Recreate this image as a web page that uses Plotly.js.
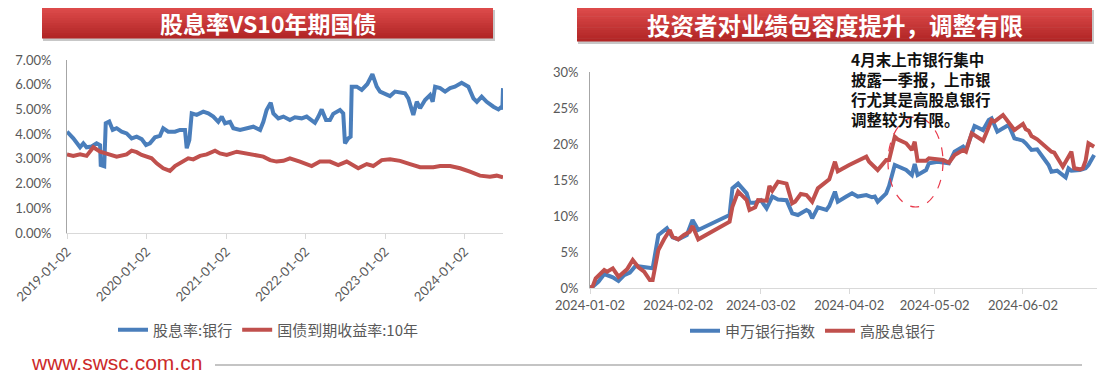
<!DOCTYPE html>
<html>
<head>
<meta charset="utf-8">
<script src="https://cdn.plot.ly/plotly-3.0.1.min.js"></script>
<style>
  html, body { margin: 0; padding: 0; background: #ffffff; }
  #chart { width: 1106px; height: 373px; }
</style>
</head>
<body>
<div id="chart"></div>
<script>
// ---------------- DATA ----------------
// Left panel: 股息率:银行 (bank dividend yield, %)
const yieldDates = ['2019-01-02','2019-01-31','2019-03-03','2019-03-18','2019-04-02','2019-04-25','2019-05-18','2019-06-03','2019-06-06','2019-06-22','2019-06-29','2019-07-15','2019-07-31','2019-08-18','2019-09-10','2019-10-03','2019-10-26','2019-11-18','2019-12-11','2019-12-31','2020-01-18','2020-02-10','2020-03-04','2020-03-19','2020-04-11','2020-05-12','2020-06-04','2020-06-27','2020-07-05','2020-07-17','2020-07-28','2020-08-20','2020-09-19','2020-10-12','2020-11-04','2020-11-27','2020-12-13','2020-12-28','2021-01-20','2021-02-04','2021-03-07','2021-04-07','2021-05-07','2021-06-07','2021-06-22','2021-07-07','2021-07-26','2021-08-07','2021-08-30','2021-09-22','2021-10-22','2021-11-14','2021-12-15','2022-01-07','2022-01-30','2022-02-14','2022-03-02','2022-03-17','2022-04-06','2022-04-24','2022-05-09','2022-06-09','2022-06-24','2022-07-02','2022-07-17','2022-07-28','2022-08-02','2022-08-25','2022-09-17','2022-10-13','2022-11-05','2022-11-25','2022-12-10','2023-01-02','2023-01-25','2023-02-17','2023-03-12','2023-04-04','2023-04-19','2023-05-12','2023-05-28','2023-06-12','2023-07-05','2023-07-28','2023-08-09','2023-08-20','2023-09-12','2023-10-05','2023-10-28','2023-11-19','2023-12-20','2024-01-20','2024-02-12','2024-02-28','2024-03-21','2024-04-13','2024-05-14','2024-06-06','2024-06-21','2024-06-24','2024-06-27'];
const bankYield = [4.10,3.83,3.47,3.63,3.47,3.50,3.63,3.55,2.75,2.70,4.44,4.51,4.17,4.24,4.10,4.03,3.83,3.90,3.80,3.56,3.63,3.87,3.93,4.24,4.10,4.10,4.17,4.17,3.43,3.76,4.84,4.78,4.91,4.84,4.71,4.50,4.71,4.44,4.50,4.24,4.17,4.24,4.30,4.17,4.50,4.98,5.27,4.84,4.64,4.71,4.57,4.68,4.64,4.71,4.57,4.46,4.71,5.00,4.57,4.57,4.82,4.98,4.84,3.63,3.83,3.90,5.92,5.92,5.79,6.03,6.43,5.92,5.72,5.65,5.54,5.72,5.68,5.65,5.45,4.78,5.31,5.05,5.38,5.58,5.31,5.92,5.86,5.72,5.86,5.92,6.08,5.92,5.45,5.31,5.52,5.31,5.11,5.00,5.11,5.00,5.86];

// Left panel: 国债到期收益率:10年 (10Y government bond yield, %)
const bondDates = ['2019-01-02','2019-01-31','2019-03-03','2019-04-02','2019-05-03','2019-05-18','2019-06-03','2019-06-29','2019-07-31','2019-08-18','2019-10-03','2019-10-26','2019-11-18','2019-12-11','2020-01-26','2020-02-18','2020-03-19','2020-04-19','2020-05-12','2020-06-12','2020-07-12','2020-08-04','2020-09-04','2020-10-05','2020-11-12','2020-12-05','2021-01-05','2021-02-20','2021-04-07','2021-05-23','2021-06-22','2021-07-23','2021-08-22','2021-09-22','2021-10-22','2021-12-07','2022-01-30','2022-03-09','2022-04-24','2022-06-01','2022-07-10','2022-09-01','2022-10-10','2022-11-09','2022-12-18','2023-01-25','2023-03-12','2023-04-27','2023-06-12','2023-08-12','2023-09-12','2023-10-28','2023-12-13','2024-01-27','2024-03-13','2024-04-28','2024-05-29','2024-06-27'];
const bondYield = [3.18,3.12,3.18,3.12,3.47,3.36,3.29,3.22,3.12,3.09,3.18,3.33,3.27,3.16,3.02,2.82,2.62,2.51,2.71,2.89,3.02,2.98,3.12,3.18,3.33,3.22,3.16,3.29,3.22,3.16,3.09,2.95,2.89,2.92,3.02,2.89,2.71,2.89,2.89,2.75,2.89,2.62,2.79,2.71,2.95,2.98,2.92,2.79,2.66,2.66,2.71,2.71,2.62,2.48,2.32,2.28,2.32,2.25];

// Right panel: 申万银行指数 (cumulative return, %)
const swDates = ['2024-01-02','2024-01-03','2024-01-05','2024-01-07','2024-01-10','2024-01-12','2024-01-14','2024-01-16','2024-01-18','2024-01-21','2024-01-24','2024-01-26','2024-01-29','2024-01-31','2024-02-02','2024-02-05','2024-02-07','2024-02-09','2024-02-20','2024-02-21','2024-02-23','2024-02-26','2024-02-27','2024-02-29','2024-03-02','2024-03-04','2024-03-06','2024-03-08','2024-03-11','2024-03-13','2024-03-15','2024-03-18','2024-03-19','2024-03-20','2024-03-22','2024-03-25','2024-03-26','2024-03-28','2024-03-29','2024-04-01','2024-04-03','2024-04-05','2024-04-08','2024-04-10','2024-04-11','2024-04-12','2024-04-15','2024-04-16','2024-04-18','2024-04-22','2024-04-24','2024-04-25','2024-04-26','2024-04-29','2024-04-30','2024-05-03','2024-05-05','2024-05-07','2024-05-09','2024-05-12','2024-05-13','2024-05-16','2024-05-19','2024-05-21','2024-05-22','2024-05-24','2024-05-26','2024-05-28','2024-05-30','2024-06-02','2024-06-03','2024-06-05','2024-06-07','2024-06-09','2024-06-11','2024-06-12','2024-06-14','2024-06-17','2024-06-18','2024-06-19','2024-06-22','2024-06-24','2024-06-25','2024-06-27'];
const swBank = [0,0.2,0.9,1.94,1.48,0.97,1.8,2.13,3.06,2.96,2.73,7.36,8.29,7.04,6.76,7.36,9.44,8.06,10.14,13.84,14.5,13.15,11.85,11.85,12.2,11.06,12.7,12.3,12.2,10.37,10.14,10.83,10.6,9.68,11.2,10.83,11.39,13.38,11.99,12.7,13.15,12.7,12.9,12.6,12.7,11.99,13.15,14.17,17.08,16.39,15.69,17.22,15.69,16.39,17.32,17.54,17.4,17.32,18.93,19.63,19.17,22.5,21.94,23.33,23.57,21.71,22.18,22.64,20.79,20.46,20.1,19.17,19.26,18.15,17.08,16.15,16.29,15.37,16.62,16.29,16.39,16.62,17.08,18.47];

// Right panel: 高股息银行 (cumulative return, %)
const hdDates = ['2024-01-02','2024-01-03','2024-01-04','2024-01-07','2024-01-08','2024-01-10','2024-01-12','2024-01-14','2024-01-15','2024-01-17','2024-01-19','2024-01-21','2024-01-23','2024-01-24','2024-01-26','2024-01-28','2024-01-30','2024-01-31','2024-02-02','2024-02-04','2024-02-06','2024-02-07','2024-02-09','2024-02-20','2024-02-21','2024-02-23','2024-02-26','2024-02-27','2024-02-29','2024-03-01','2024-03-04','2024-03-05','2024-03-06','2024-03-08','2024-03-11','2024-03-13','2024-03-14','2024-03-16','2024-03-18','2024-03-20','2024-03-22','2024-03-26','2024-03-28','2024-03-29','2024-04-02','2024-04-08','2024-04-09','2024-04-12','2024-04-15','2024-04-16','2024-04-18','2024-04-19','2024-04-22','2024-04-24','2024-04-25','2024-04-26','2024-04-29','2024-04-30','2024-05-03','2024-05-05','2024-05-07','2024-05-09','2024-05-12','2024-05-13','2024-05-15','2024-05-17','2024-05-19','2024-05-22','2024-05-23','2024-05-26','2024-05-28','2024-05-30','2024-06-02','2024-06-03','2024-06-04','2024-06-05','2024-06-07','2024-06-10','2024-06-12','2024-06-13','2024-06-16','2024-06-18','2024-06-19','2024-06-20','2024-06-22','2024-06-23','2024-06-24','2024-06-25','2024-06-27'];
const highDiv = [0,0.28,1.35,2.5,2.27,2.73,1.57,2.27,2.59,3.89,2.87,2.27,1.11,1.11,5.28,6.76,8.06,7.13,6.76,7.36,7.82,8.61,6.76,9.21,11.29,13.38,12.2,10.83,11.2,12.2,12.13,14.17,13.52,14.77,14.5,11.76,11.99,13.06,12.92,11.99,13.84,15.1,17.54,16.2,17.08,18.24,17.54,16.39,17.78,17.78,21.01,20.65,20.1,19.17,20.32,17.68,17.68,18.01,17.87,17.78,17.4,18.47,19.17,18.93,21.48,21.01,20.46,23.33,23.1,24.03,22.96,21.94,22.78,22.04,21.85,21.11,20.65,19.63,18.93,18.8,16.85,18.24,18.93,16.62,16.48,16.62,17.68,20.1,19.63];

// Tick labels
const leftTicks = ['2019-01-02','2020-01-02','2021-01-02','2022-01-02','2023-01-02','2024-01-02'];
const rightTicks = ['2024-01-02','2024-02-02','2024-03-02','2024-04-02','2024-05-02','2024-06-02'];

// Text
const leftTitle = '股息率VS10年期国债';
const rightTitle = '投资者对业绩包容度提升，调整有限';
const noteLines = ['4月末上市银行集中','披露一季报，上市银','行尤其是高股息银行','调整较为有限。'];
const footerText = 'www.swsc.com.cn';

// ---------------- LAYOUT HELPERS ----------------
const W = 1106, H = 373;
const px = x => x / W;
const py = y => 1 - y / H;
const BLUE = '#4a7ebb', RED = '#c0504d';
const CJK = '"Noto Sans CJK SC", "Noto Sans", sans-serif';
const TICKFONT = {family: 'Lato, "Noto Sans", sans-serif', size: 13, color: '#595959'};

function banner(x0, x1, y0, y1) {
  const shapes = [];
  // shadow
  shapes.push({type:'rect', xref:'paper', yref:'paper', x0:px(x0+1), x1:px(x1+2), y0:py(y1+3), y1:py(y0+2),
    fillcolor:'rgba(0,0,0,0.22)', line:{width:0}, layer:'above'});
  const top = [220, 74, 74], bot = [178, 38, 38];
  const n = 12;
  for (let i = 0; i < n; i++) {
    const t = i / (n - 1);
    const c = top.map((v, k) => Math.round(v + (bot[k] - v) * t));
    const ya = y0 + (y1 - y0) * i / n, yb = y0 + (y1 - y0) * (i + 1) / n;
    shapes.push({type:'rect', xref:'paper', yref:'paper', x0:px(x0), x1:px(x1), y0:py(yb + 0.5), y1:py(ya),
      fillcolor:`rgb(${c[0]},${c[1]},${c[2]})`, line:{width:0}, layer:'above'});
  }
  return shapes;
}

const shapes = [].concat(
  banner(42, 493, 8, 38),
  banner(577, 1092, 8, 41),
  [
    {type:'circle', xref:'paper', yref:'paper', x0:px(888), x1:px(943), y0:py(207), y1:py(117),
     line:{color:'#e8384a', width:1.2, dash:'dash'}, fillcolor:'rgba(0,0,0,0)'},
    {type:'line', xref:'paper', yref:'paper', x0:px(215), x1:px(1082), y0:py(365), y1:py(365),
     line:{color:'#c4c4c4', width:2}}
  ]
);

const annotations = [
  {text: leftTitle, xref:'paper', yref:'paper', x:px(267.5), y:py(23), xanchor:'center', yanchor:'middle',
   showarrow:false, font:{family:CJK, size:23, color:'#ffffff', weight:'bold'}},
  {text: rightTitle, xref:'paper', yref:'paper', x:px(835), y:py(24.5), xanchor:'center', yanchor:'middle',
   showarrow:false, font:{family:CJK, size:23.5, color:'#ffffff', weight:'bold'}},
  {text: footerText, xref:'paper', yref:'paper', x:px(29), y:py(362), xanchor:'left', yanchor:'middle',
   showarrow:false, font:{family:'"Liberation Sans", Arial, sans-serif', size:21, color:'#cc2a2a'}},
  {text: noteLines.join('<br>'), xref:'paper', yref:'paper', x:px(849), y:py(46), xanchor:'left', yanchor:'top',
   align:'left', showarrow:false, font:{family:CJK, size:15.5, color:'#111111', weight:'bold'}}
];

// ---------------- TRACES ----------------
const traces = [
  {x: yieldDates, y: bankYield, name:'股息率:银行', type:'scatter', mode:'lines', xaxis:'x', yaxis:'y',
   line:{color:BLUE, width:4}, legend:'legend'},
  {x: bondDates, y: bondYield, name:'国债到期收益率:10年', type:'scatter', mode:'lines', xaxis:'x', yaxis:'y',
   line:{color:RED, width:4}, legend:'legend'},
  {x: swDates, y: swBank, name:'申万银行指数', type:'scatter', mode:'lines', xaxis:'x2', yaxis:'y2',
   line:{color:BLUE, width:4}, legend:'legend2'},
  {x: hdDates, y: highDiv, name:'高股息银行', type:'scatter', mode:'lines', xaxis:'x2', yaxis:'y2',
   line:{color:RED, width:4}, legend:'legend2'}
];

const legendFont = {family: CJK, size: 15, color:'#595959'};

const layout = {
  width: W, height: H,
  margin: {l:0, r:0, t:0, b:0},
  paper_bgcolor:'#ffffff', plot_bgcolor:'rgba(0,0,0,0)',
  showlegend: true,
  hovermode: false,
  xaxis: {
    type:'date', domain:[px(67), px(503)], range:['2019-01-02','2024-06-27'], anchor:'y',
    tickvals: leftTicks, ticktext: leftTicks, tickangle: -45,
    showline:true, linecolor:'#d9d9d9', linewidth:1, ticks:'outside', ticklen:5, tickcolor:'#d9d9d9',
    showgrid:false, zeroline:false, tickfont: TICKFONT
  },
  yaxis: {
    domain:[py(233), py(60)], range:[0, 7], anchor:'x', dtick:1, tick0:0,
    tickformat:'.2f', ticksuffix:'%',
    showline:true, linecolor:'#a6a6a6', linewidth:1, ticks:'', showgrid:false, zeroline:false,
    ticklabelstandoff: 12, tickfont: TICKFONT
  },
  xaxis2: {
    type:'date', domain:[px(590), px(1097)], range:['2024-01-02','2024-06-28'], anchor:'y2',
    tickvals: rightTicks, ticktext: rightTicks, tickangle: 0,
    showline:true, linecolor:'#d9d9d9', linewidth:1, ticks:'outside', ticklen:5, tickcolor:'#d9d9d9',
    showgrid:false, zeroline:false, tickfont: TICKFONT
  },
  yaxis2: {
    domain:[py(288), py(72)], range:[0, 30], anchor:'x2', dtick:5, tick0:0,
    tickformat:'d', ticksuffix:'%',
    showline:true, linecolor:'#a6a6a6', linewidth:1, ticks:'', showgrid:false, zeroline:false,
    ticklabelstandoff: 8, tickfont: TICKFONT
  },
  legend: {
    orientation:'h', x:px(268), xanchor:'center', y:py(330), yanchor:'middle',
    font: legendFont, bgcolor:'rgba(0,0,0,0)', itemwidth:30, traceorder:'normal'
  },
  legend2: {
    orientation:'h', x:px(813), xanchor:'center', y:py(331), yanchor:'middle',
    font: legendFont, bgcolor:'rgba(0,0,0,0)', itemwidth:30, traceorder:'normal'
  },
  shapes: shapes,
  annotations: annotations
};

Plotly.newPlot('chart', traces, layout, {staticPlot:true, displayModeBar:false});
</script>
</body>
</html>
